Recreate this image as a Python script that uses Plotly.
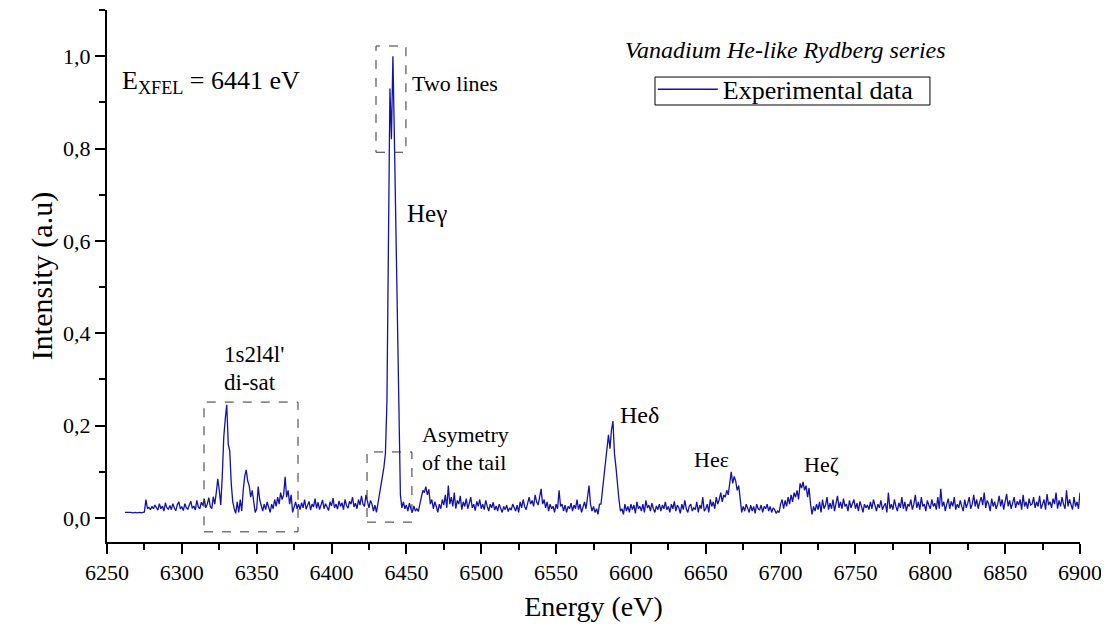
import numpy as np
import plotly.graph_objects as go

# Energy grid (eV), 1 eV step, starting at 6262
energy_start = 6262

# Normalised intensity, one value per eV
intensity = [
    # 6262-6269
    0.012, 0.012, 0.013, 0.012, 0.012, 0.011, 0.012, 0.012,
    # 6270
    0.011, 0.012, 0.012, 0.011, 0.012, 0.013, 0.040, 0.021, 0.023, 0.018,
    # 6280
    0.025, 0.020, 0.028, 0.022, 0.017, 0.031, 0.020, 0.026, 0.015, 0.033,
    # 6290
    0.022, 0.019, 0.027, 0.018, 0.031, 0.021, 0.016, 0.029, 0.035, 0.020,
    # 6300
    0.024, 0.016, 0.031, 0.022, 0.019, 0.028, 0.036, 0.021, 0.026, 0.017,
    # 6310
    0.038, 0.024, 0.020, 0.034, 0.027, 0.041, 0.022, 0.030, 0.044, 0.025,
    # 6320
    0.020, 0.046, 0.030, 0.055, 0.085, 0.060, 0.028, 0.090, 0.175, 0.215,
    # 6330
    0.245, 0.160, 0.145, 0.075, 0.035, 0.020, 0.010, 0.035, 0.012, 0.040,
    # 6340
    0.015, 0.060, 0.090, 0.104, 0.080, 0.070, 0.045, 0.060, 0.030, 0.012,
    # 6350
    0.020, 0.068, 0.040, 0.025, 0.015, 0.030, 0.018, 0.035, 0.022, 0.012,
    # 6360
    0.030, 0.020, 0.040, 0.025, 0.045, 0.030, 0.055, 0.040, 0.050, 0.089,
    # 6370
    0.045, 0.060, 0.030, 0.050, 0.012, 0.025, 0.035, 0.020, 0.030, 0.018,
    # 6380
    0.033, 0.022, 0.040, 0.019, 0.028, 0.036, 0.017, 0.030, 0.024, 0.042,
    # 6390
    0.021, 0.034, 0.018, 0.027, 0.039, 0.020, 0.031, 0.024, 0.016, 0.035,
    # 6400
    0.026, 0.043, 0.022, 0.030, 0.019, 0.037, 0.025, 0.033, 0.018, 0.040,
    # 6410
    0.027, 0.021, 0.036, 0.030, 0.045, 0.024, 0.032, 0.020, 0.040, 0.028,
    # 6420
    0.048, 0.030, 0.025, 0.050, 0.035, 0.022, 0.038, 0.030, 0.015, 0.028,
    # 6430
    0.012, 0.030, 0.045, 0.065, 0.090, 0.110, 0.140, 0.250, 0.600, 0.930,
    # 6440
    0.820, 1.000, 0.820, 0.620, 0.350, 0.150, 0.050, 0.022, 0.035, 0.020,
    # 6450
    0.028, 0.015, 0.032, 0.020, 0.012, 0.026, 0.015, 0.020, 0.014, 0.030,
    # 6460
    0.045, 0.060, 0.055, 0.068, 0.050, 0.062, 0.030, 0.040, 0.020, 0.035,
    # 6470
    0.025, 0.012, 0.030, 0.020, 0.040, 0.028, 0.050, 0.022, 0.070, 0.030,
    # 6480
    0.045, 0.025, 0.055, 0.020, 0.038, 0.030, 0.048, 0.018, 0.035, 0.025,
    # 6490
    0.042, 0.020, 0.032, 0.045, 0.022, 0.030, 0.016, 0.036, 0.025, 0.040,
    # 6500
    0.020, 0.030, 0.018, 0.038, 0.025, 0.015, 0.030, 0.022, 0.034, 0.017,
    # 6510
    0.026, 0.015, 0.030, 0.020, 0.012, 0.025, 0.018, 0.028, 0.014, 0.022,
    # 6520
    0.017, 0.030, 0.020, 0.015, 0.028, 0.012, 0.035, 0.022, 0.040, 0.025,
    # 6530
    0.018, 0.032, 0.045, 0.030, 0.038, 0.025, 0.050, 0.035, 0.028, 0.045,
    # 6540
    0.063, 0.030, 0.040, 0.022, 0.035, 0.015, 0.030, 0.020, 0.025, 0.012,
    # 6550
    0.030, 0.020, 0.060, 0.025, 0.030, 0.015, 0.028, 0.012, 0.025, 0.020,
    # 6560
    0.032, 0.015, 0.028, 0.020, 0.040, 0.018, 0.030, 0.012, 0.025, 0.035,
    # 6570
    0.020, 0.040, 0.070, 0.030, 0.015, 0.025, 0.012, 0.020, 0.008, 0.030,
    # 6580
    0.030, 0.060, 0.090, 0.130, 0.160, 0.180, 0.150, 0.190, 0.210, 0.140,
    # 6590
    0.110, 0.070, 0.040, 0.015, 0.020, 0.008, 0.030, 0.015, 0.025, 0.012,
    # 6600
    0.030, 0.018, 0.028, 0.010, 0.035, 0.020, 0.025, 0.015, 0.030, 0.012,
    # 6610
    0.038, 0.022, 0.028, 0.015, 0.032, 0.020, 0.012, 0.026, 0.018, 0.030,
    # 6620
    0.015, 0.028, 0.020, 0.035, 0.018, 0.025, 0.012, 0.030, 0.020, 0.036,
    # 6630
    0.015, 0.028, 0.022, 0.010, 0.030, 0.018, 0.038, 0.020, 0.012, 0.026,
    # 6640
    0.030, 0.015, 0.022, 0.018, 0.035, 0.012, 0.028, 0.020, 0.045, 0.015,
    # 6650
    0.020, 0.030, 0.012, 0.040, 0.025, 0.035, 0.020, 0.045, 0.030, 0.040,
    # 6660
    0.055, 0.035, 0.050, 0.045, 0.060, 0.050, 0.080, 0.100, 0.075, 0.090,
    # 6670
    0.080, 0.060, 0.070, 0.035, 0.012, 0.025, 0.015, 0.030, 0.020, 0.012,
    # 6680
    0.028, 0.015, 0.025, 0.010, 0.030, 0.020, 0.018, 0.028, 0.012, 0.025,
    # 6690
    0.020, 0.030, 0.015, 0.025, 0.012, 0.022, 0.018, 0.010, 0.015, 0.012,
    # 6700
    0.030, 0.040, 0.020, 0.038, 0.025, 0.045, 0.030, 0.050, 0.035, 0.055,
    # 6710
    0.045, 0.060, 0.040, 0.075, 0.065, 0.078, 0.060, 0.070, 0.045, 0.065,
    # 6720
    0.030, 0.008, 0.025, 0.015, 0.030, 0.018, 0.035, 0.012, 0.040, 0.020,
    # 6730
    0.028, 0.045, 0.018, 0.032, 0.020, 0.040, 0.015, 0.030, 0.048, 0.022,
    # 6740
    0.035, 0.020, 0.042, 0.025, 0.030, 0.015, 0.038, 0.022, 0.030, 0.040,
    # 6750
    0.020, 0.032, 0.015, 0.036, 0.025, 0.012, 0.030, 0.022, 0.028, 0.018,
    # 6760
    0.035, 0.020, 0.040, 0.025, 0.015, 0.030, 0.022, 0.038, 0.018, 0.026,
    # 6770
    0.032, 0.012, 0.055, 0.020, 0.030, 0.018, 0.040, 0.025, 0.015, 0.033,
    # 6780
    0.022, 0.045, 0.020, 0.035, 0.015, 0.030, 0.025, 0.040, 0.018, 0.030,
    # 6790
    0.050, 0.022, 0.035, 0.018, 0.045, 0.025, 0.030, 0.015, 0.038, 0.028,
    # 6800
    0.020, 0.040, 0.025, 0.032, 0.018, 0.045, 0.020, 0.063, 0.025, 0.035,
    # 6810
    0.015, 0.030, 0.042, 0.020, 0.036, 0.025, 0.045, 0.018, 0.030, 0.022,
    # 6820
    0.038, 0.025, 0.015, 0.040, 0.022, 0.032, 0.045, 0.020, 0.030, 0.050,
    # 6830
    0.025, 0.040, 0.020, 0.035, 0.045, 0.028, 0.055, 0.022, 0.038, 0.030,
    # 6840
    0.015, 0.042, 0.025, 0.035, 0.020, 0.030, 0.048, 0.025, 0.040, 0.018,
    # 6850
    0.032, 0.052, 0.025, 0.038, 0.020, 0.030, 0.045, 0.022, 0.036, 0.028,
    # 6860
    0.040, 0.018, 0.050, 0.025, 0.035, 0.020, 0.042, 0.028, 0.030, 0.045,
    # 6870
    0.022, 0.035, 0.025, 0.048, 0.020, 0.030, 0.040, 0.018, 0.052, 0.028,
    # 6880
    0.035, 0.022, 0.042, 0.030, 0.055, 0.020, 0.038, 0.025, 0.045, 0.030,
    # 6890
    0.020, 0.060, 0.025, 0.040, 0.030, 0.018, 0.045, 0.025, 0.035, 0.020,
    # 6900
    0.055,
]

energy = list(range(energy_start, energy_start + len(intensity)))

# Annotation boxes (energy range, intensity range)
box_disat = [6314.8, 6377.6, -0.030, 0.251]
box_twolines = [6429.7, 6449.7, 0.792, 1.022]
box_tail = [6423.7, 6453.7, -0.009, 0.143]

FONT = "Liberation Serif"
LINE_COLOR = "#1212a8"

fig = go.Figure()
fig.add_trace(go.Scatter(
    x=energy, y=intensity, mode="lines",
    line=dict(color=LINE_COLOR, width=1.3),
    name="Experimental data",
))

for b in (box_disat, box_twolines, box_tail):
    fig.add_shape(type="rect", x0=b[0], x1=b[1], y0=b[2], y1=b[3],
                  xref="x", yref="y",
                  line=dict(color="#333333", width=1, dash="dash"))

# legend frame
fig.add_shape(type="rect", xref="paper", yref="paper",
              x0=0.5632, x1=0.8458, y0=0.8214, y1=0.874,
              line=dict(color="black", width=1), fillcolor="white", layer="below")

def ann(text, x, y, size, xanchor="left", yanchor="middle", italic=False):
    fig.add_annotation(
        text=f"<i>{text}</i>" if italic else text,
        x=x, y=y, xref="x", yref="y", showarrow=False,
        xanchor=xanchor, yanchor=yanchor, align="left",
        font=dict(family=FONT, size=size, color="black"),
    )

ann("E<sub>XFEL</sub> = 6441 eV", 6259.0, 0.945, 26)
ann("Vanadium He-like Rydberg series", 6703.5, 1.013, 24, xanchor="center", italic=True)
ann("Two lines", 6452.6, 0.941, 22)
ann("Heγ", 6449.0, 0.66, 25)
ann("1s2l4l'", 6326.5, 0.353, 23)
ann("di-sat", 6326.5, 0.294, 23)
ann("Asymetry", 6458.8, 0.18, 22)
ann("of the tail", 6458.8, 0.121, 22)
ann("Heδ", 6591.6, 0.223, 24)
ann("Heε", 6640.6, 0.126, 22)
ann("Heζ", 6714.5, 0.115, 22)

# The page body adds an 8 px offset; margins compensate for it.
fig.update_layout(
    width=1109, height=630,
    margin=dict(l=99, r=37, t=2, b=96),
    paper_bgcolor="white", plot_bgcolor="white",
    separators=",.",
    font=dict(family=FONT, size=22, color="black"),
    showlegend=True,
    legend=dict(
        x=0.561, y=0.895, xanchor="left", yanchor="top",
        borderwidth=0, bgcolor="rgba(0,0,0,0)",
        font=dict(family=FONT, size=26, color="black"),
        itemwidth=60,
    ),
)

fig.update_xaxes(
    range=[6250, 6900], dtick=50, tick0=6250,
    showline=True, linecolor="black", linewidth=2,
    ticks="outside", ticklen=10, tickwidth=2, tickcolor="black",
    minor=dict(dtick=25, ticks="outside", ticklen=6, tickwidth=2, tickcolor="black"),
    showgrid=False, zeroline=False, mirror=False,
    tickfont=dict(family=FONT, size=22),
    title=dict(text="Energy (eV)", font=dict(family=FONT, size=28), standoff=12),
)
fig.update_yaxes(
    range=[-0.052, 1.1], dtick=0.2, tick0=0, tickformat=".1f",
    showline=True, linecolor="black", linewidth=2,
    ticks="outside", ticklen=10, tickwidth=2, tickcolor="black",
    minor=dict(dtick=0.1, ticks="outside", ticklen=6, tickwidth=2, tickcolor="black"),
    showgrid=False, zeroline=False, mirror=False,
    tickfont=dict(family=FONT, size=22),
    title=dict(text="Intensity (a.u)", font=dict(family=FONT, size=30), standoff=2),
)

fig.write_html("out.html")
